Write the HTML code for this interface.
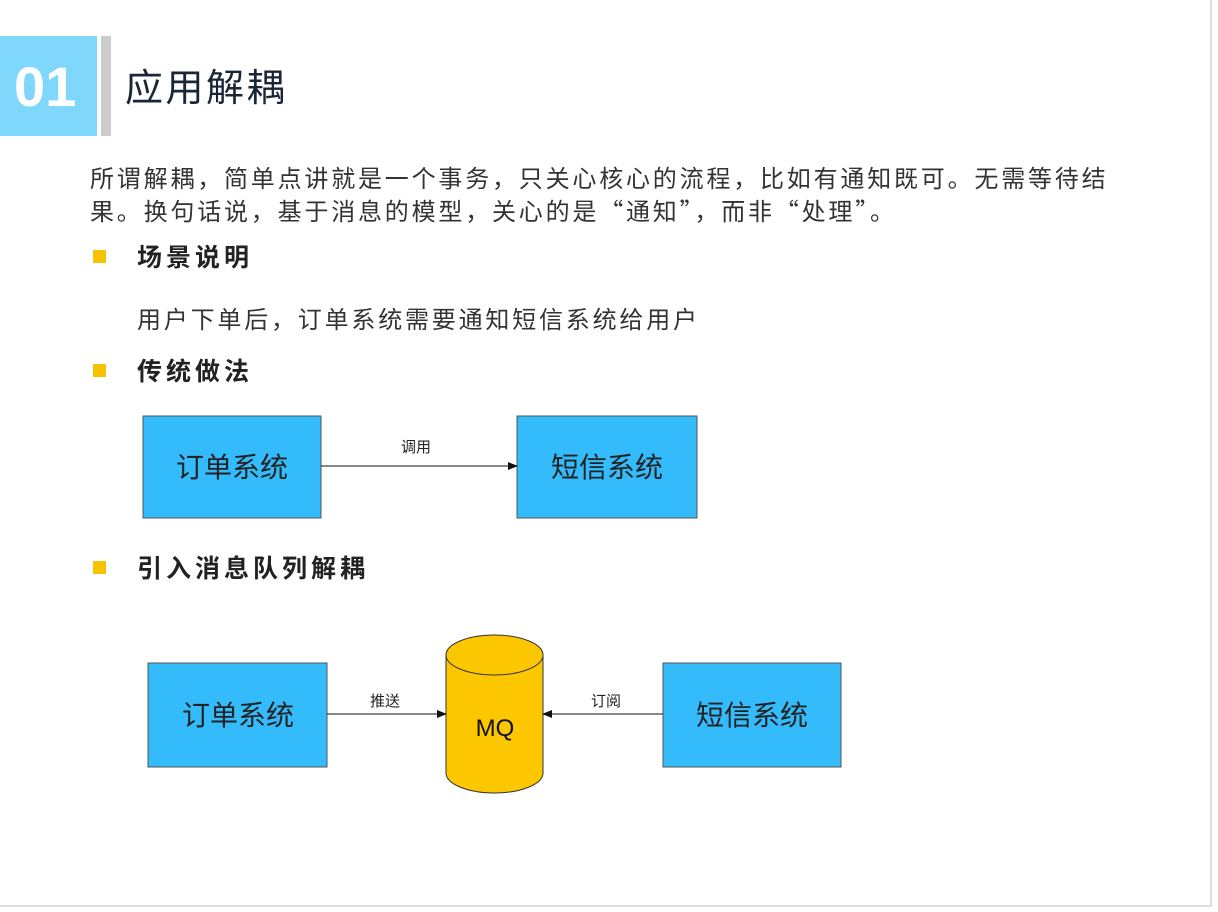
<!DOCTYPE html>
<html><head><meta charset="utf-8"><style>
body{margin:0;width:1218px;height:912px;background:#fff;position:relative;overflow:hidden;font-family:"Liberation Sans","Noto Sans CJK SC",sans-serif;color:#222}
.a{position:absolute;white-space:nowrap}
.frame{position:absolute;left:0;top:0;width:1210px;height:905px;border-right:2px solid #ddd;border-bottom:2px solid #ddd}
.bul{position:absolute;width:13px;height:13px;background:#f7c200}
.h{font-size:25px;font-weight:bold;letter-spacing:4px;font-family:"Noto Sans CJK SC",sans-serif}
.p{font-size:24px;color:#333;letter-spacing:2.8px;font-family:"Noto Sans CJK SC",sans-serif}
</style></head><body>
<div class="frame"></div>
<div class="a" style="left:0;top:36px;width:97px;height:100px;background:#7fd8fb"></div>
<div class="a" style="left:14px;top:52px;font-size:56px;font-weight:bold;color:#fff;line-height:70px">01</div>
<div class="a" style="left:101px;top:36px;width:10px;height:100px;background:#ccc"></div>
<div class="a" style="left:125px;top:64px;font-size:38px;letter-spacing:2.5px;line-height:50px;color:#1a2535">应用解耦</div>
<div class="a p" style="left:90px;top:160px;line-height:33px">所谓解耦，简单点讲就是一个事务，只关心核心的流程，比如有通知既可。无需等待结<br>果。换句话说，基于消息的模型，关心的是“通知”，而非“处理”。</div>
<div class="bul" style="left:93px;top:250px"></div>
<div class="a h" style="left:137px;top:238px">场景说明</div>
<div class="a p" style="left:137px;top:300px">用户下单后，订单系统需要通知短信系统给用户</div>
<div class="bul" style="left:93px;top:364px"></div>
<div class="a h" style="left:137px;top:352px">传统做法</div>
<div class="bul" style="left:93px;top:561px"></div>
<div class="a h" style="left:137px;top:549px">引入消息队列解耦</div>
<svg class="a" style="left:0;top:0" width="1218" height="912">
<defs><marker id="m" markerWidth="10" markerHeight="8" refX="9" refY="4" orient="auto" markerUnits="userSpaceOnUse"><path d="M0,0 L10,4 L0,8z" fill="#111"/></marker></defs>
<g font-family="Liberation Sans, Noto Sans CJK SC, sans-serif" fill="#222">
<rect x="143" y="416" width="178" height="102" fill="#33bbfb" stroke="#555"/>
<rect x="517" y="416" width="180" height="102" fill="#33bbfb" stroke="#555"/>
<text x="232" y="477" font-size="28" text-anchor="middle">订单系统</text>
<text x="607" y="477" font-size="28" text-anchor="middle">短信系统</text>
<line x1="321" y1="466" x2="517" y2="466" stroke="#111" marker-end="url(#m)"/>
<text x="416" y="452" font-size="15" text-anchor="middle">调用</text>
<rect x="148" y="663" width="179" height="104" fill="#33bbfb" stroke="#555"/>
<rect x="663" y="663" width="178" height="104" fill="#33bbfb" stroke="#555"/>
<text x="238" y="725" font-size="28" text-anchor="middle">订单系统</text>
<text x="752" y="725" font-size="28" text-anchor="middle">短信系统</text>
<path d="M446,655 L446,773 A48.5,20 0 0 0 543,773 L543,655" fill="#fdc700" stroke="#333"/>
<ellipse cx="494.5" cy="655" rx="48.5" ry="20" fill="#fdc700" stroke="#333"/>
<text x="495" y="736" font-size="24" text-anchor="middle" fill="#111">MQ</text>
<line x1="327" y1="714" x2="446" y2="714" stroke="#111" marker-end="url(#m)"/>
<line x1="663" y1="714" x2="543" y2="714" stroke="#111" marker-end="url(#m)"/>
<text x="385" y="706" font-size="15" text-anchor="middle">推送</text>
<text x="606" y="706" font-size="15" text-anchor="middle">订阅</text>
</g></svg>
</body></html>
